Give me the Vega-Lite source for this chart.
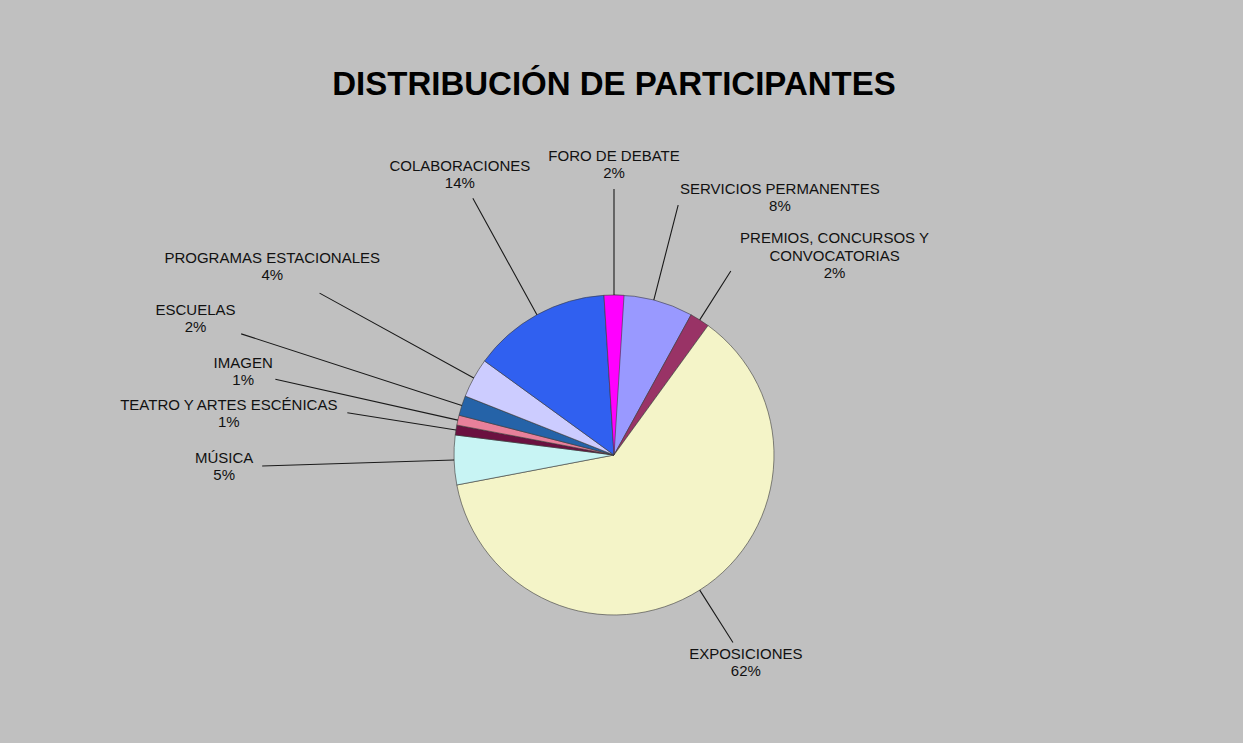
{
  "$schema": "https://vega.github.io/schema/vega-lite/v6.json",
  "width": 1228,
  "height": 888,
  "autosize": {"type": "none"},
  "padding": {"left": 0, "top": 11, "right": 15, "bottom": -156},
  "background": "#C0C0C0",
  "config": {"view": {"stroke": null}, "font": "Liberation Sans"},
  "title": {
    "text": "DISTRIBUCIÓN DE PARTICIPANTES",
    "font": "Liberation Sans",
    "fontSize": 33,
    "fontWeight": "bold",
    "color": "black",
    "anchor": "middle",
    "frame": "group",
    "baseline": "alphabetic",
    "offset": -117
  },
  "data": {
    "values": [
      {"category": "SERVICIOS PERMANENTES", "share": 0.08},
      {"category": "PREMIOS, CONCURSOS Y\nCONVOCATORIAS", "share": 0.02},
      {"category": "EXPOSICIONES", "share": 0.62},
      {"category": "MÚSICA", "share": 0.05},
      {"category": "TEATRO Y ARTES ESCÉNICAS", "share": 0.01},
      {"category": "IMAGEN", "share": 0.01},
      {"category": "ESCUELAS", "share": 0.02},
      {"category": "PROGRAMAS ESTACIONALES", "share": 0.04},
      {"category": "COLABORACIONES", "share": 0.14},
      {"category": "FORO DE DEBATE", "share": 0.02}
    ]
  },
  "transform": [
    {"window": [{"op": "row_number", "as": "idx"}]},
    {"stack": "share", "groupby": [], "sort": [{"field": "idx", "order": "ascending"}], "as": ["s0", "s1"]}
  ],
  "layer": [
    {
      "mark": {"type": "arc", "radius": 160, "stroke": "#3a3a3a", "strokeWidth": 0.6},
      "encoding": {
        "theta": {"field": "s0", "type": "quantitative", "stack": null},
        "theta2": {"field": "s1"},
        "color": {
          "field": "category",
          "type": "nominal",
          "legend": null,
          "scale": {
            "domain": ["SERVICIOS PERMANENTES", "PREMIOS, CONCURSOS Y\nCONVOCATORIAS", "EXPOSICIONES", "MÚSICA", "TEATRO Y ARTES ESCÉNICAS", "IMAGEN", "ESCUELAS", "PROGRAMAS ESTACIONALES", "COLABORACIONES", "FORO DE DEBATE"],
            "range": ["#9999FF", "#993366", "#F4F4C8", "#C8F4F4", "#6B1040", "#E8809A", "#2563A8", "#CCCCFF", "#3060F0", "#FF00FF"]
          }
        }
      }
    },
    {
      "transform": [
        {"fold": ["s0", "s1"], "as": ["edge", "angle"]},
        {"aggregate": [{"op": "mean", "field": "angle", "as": "mid"}], "groupby": ["category", "idx", "share"]}
      ],
      "encoding": {
        "theta": {"field": "mid", "type": "quantitative", "stack": null}
      },
      "layer": [
        {
          "mark": {"type": "arc", "fillOpacity": 0, "stroke": "#1a1a1a", "strokeWidth": 1.1},
          "encoding": {
            "theta2": {"field": "mid"},
            "radius": {"field": "idx", "type": "quantitative", "scale": {"type": "linear", "domain": [1, 2, 3, 4, 5, 6, 7, 8, 9, 10], "range": [258, 218, 222, 352, 270, 347, 392, 336, 293, 266], "zero": false, "nice": false}},
            "radius2": {"value": 160}
          }
        },
        {
          "encoding": {
            "radius": {"field": "idx", "type": "quantitative", "scale": {"type": "linear", "domain": [1, 2, 3, 4, 5, 6, 7, 8, 9, 10], "range": [265, 225, 246, 390, 390, 380, 440, 390, 320, 290], "zero": false, "nice": false}}
          },
          "layer": [
            {
              "mark": {"type": "text", "font": "Liberation Sans", "fontSize": 15, "baseline": "bottom", "align": "center", "dy": -1, "color": "#111"},
              "encoding": {
                "text": {"field": "category", "type": "nominal"},
                "opacity": {"condition": {"test": "datum.idx == 1 || datum.idx == 2 || datum.idx == 5", "value": 0}, "value": 1}
              }
            },
            {
              "mark": {"type": "text", "font": "Liberation Sans", "fontSize": 15, "baseline": "top", "align": "center", "dy": 1, "color": "#111"},
              "encoding": {
                "text": {"field": "share", "type": "quantitative", "format": ".0%"},
                "opacity": {"condition": {"test": "datum.idx == 1 || datum.idx == 2 || datum.idx == 5", "value": 0}, "value": 1}
              }
            },
            {
              "mark": {"type": "text", "font": "Liberation Sans", "fontSize": 15, "baseline": "bottom", "align": "center", "dx": 100, "dy": -1, "color": "#111"},
              "encoding": {
                "text": {"field": "category", "type": "nominal"},
                "opacity": {"condition": {"test": "datum.idx == 1", "value": 1}, "value": 0}
              }
            },
            {
              "mark": {"type": "text", "font": "Liberation Sans", "fontSize": 15, "lineHeight": 18, "lineBreak": "\n", "baseline": "bottom", "align": "center", "dx": 100, "dy": -19, "color": "#111"},
              "encoding": {
                "text": {"field": "category", "type": "nominal"},
                "opacity": {"condition": {"test": "datum.idx == 2", "value": 1}, "value": 0}
              }
            },
            {
              "mark": {"type": "text", "font": "Liberation Sans", "fontSize": 15, "baseline": "top", "align": "center", "dx": 100, "dy": 1, "color": "#111"},
              "encoding": {
                "text": {"field": "share", "type": "quantitative", "format": ".0%"},
                "opacity": {"condition": {"test": "datum.idx == 1 || datum.idx == 2", "value": 1}, "value": 0}
              }
            },
            {
              "mark": {"type": "text", "font": "Liberation Sans", "fontSize": 15, "baseline": "bottom", "align": "center", "dy": 19, "color": "#111"},
              "encoding": {
                "text": {"field": "category", "type": "nominal"},
                "opacity": {"condition": {"test": "datum.idx == 5", "value": 1}, "value": 0}
              }
            },
            {
              "mark": {"type": "text", "font": "Liberation Sans", "fontSize": 15, "baseline": "top", "align": "center", "dy": 21, "color": "#111"},
              "encoding": {
                "text": {"field": "share", "type": "quantitative", "format": ".0%"},
                "opacity": {"condition": {"test": "datum.idx == 5", "value": 1}, "value": 0}
              }
            }
          ],
          "resolve": {"scale": {"radius": "shared"}}
        }
      ],
      "resolve": {"scale": {"radius": "independent"}}
    }
  ],
  "resolve": {"scale": {"radius": "independent"}}
}
